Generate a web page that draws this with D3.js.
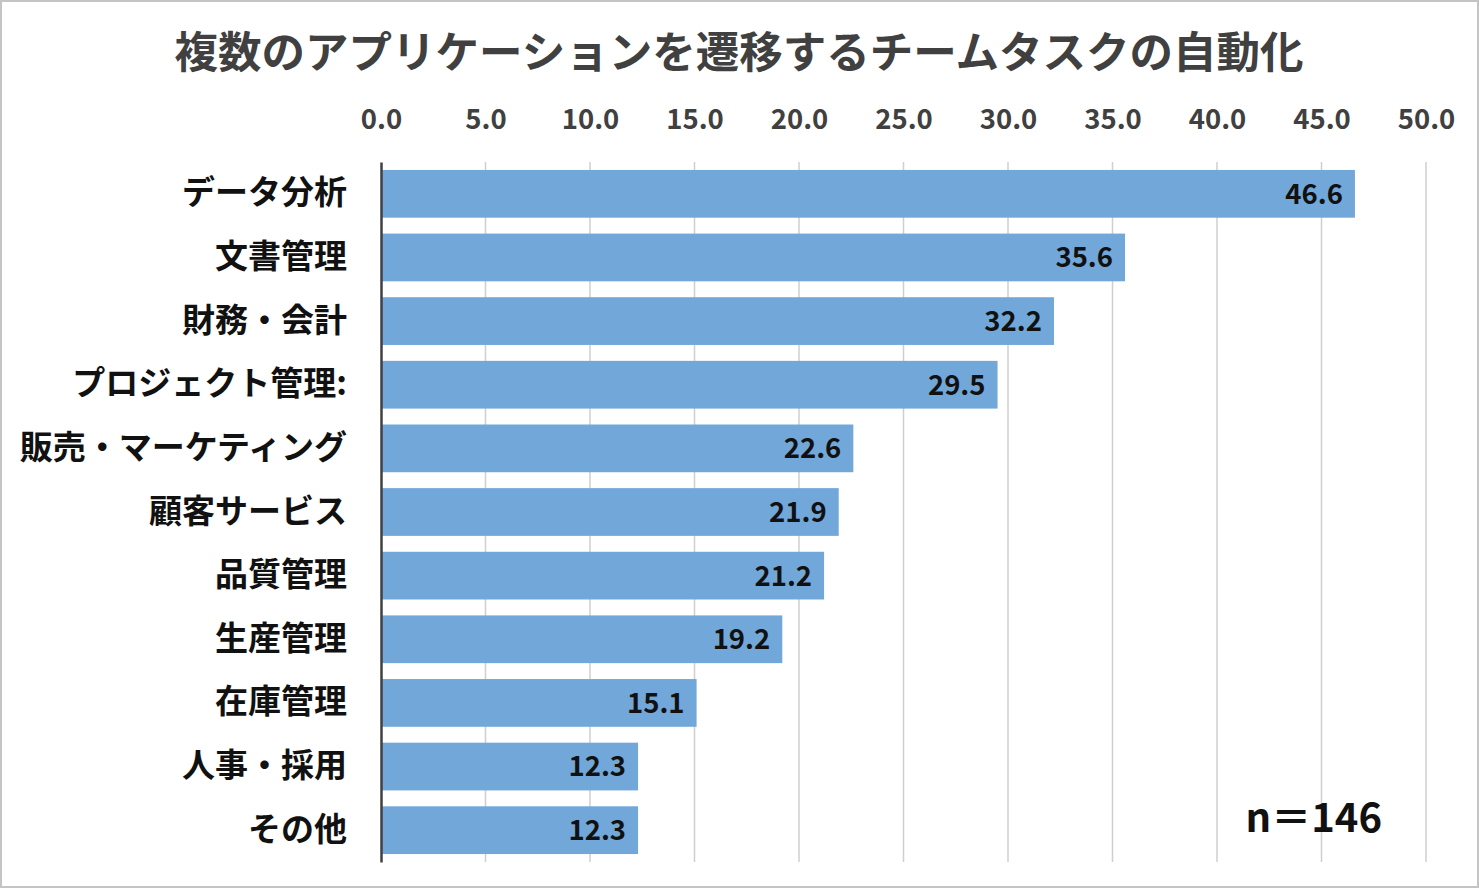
<!DOCTYPE html>
<html>
<head>
<meta charset="utf-8">
<script src="https://cdn.jsdelivr.net/npm/d3@7"></script>
<style>
  html, body { margin: 0; padding: 0; background: #fff; }
  svg { display: block; }
  text { font-family: "Noto Sans CJK JP", "Noto Sans", sans-serif; }
</style>
</head>
<body>
<svg id="chart" width="1479" height="888"></svg>
<script>
const title = '複数のアプリケーションを遷移するチームタスクの自動化';
const categories = ['データ分析', '文書管理', '財務・会計', 'プロジェクト管理:', '販売・マーケティング',
  '顧客サービス', '品質管理', '生産管理', '在庫管理', '人事・採用', 'その他'];
const values = [46.6, 35.6, 32.2, 29.5, 22.6, 21.9, 21.2, 19.2, 15.1, 12.3, 12.3];
const ticks = [0, 5, 10, 15, 20, 25, 30, 35, 40, 45, 50];
const note = 'n＝146';

const svg = d3.select('#chart');
const W = 1479, H = 888;
const m = { top: 162, right: 53, bottom: 26, left: 381 };

// outer frame
svg.append('rect')
  .attr('x', 1).attr('y', 1)
  .attr('width', W - 2).attr('height', H - 2)
  .attr('fill', '#fff')
  .attr('stroke', '#c4c4c4')
  .attr('stroke-width', 2);

const x = d3.scaleLinear().domain([0, 50]).range([m.left, W - m.right]);
const y = d3.scaleBand().domain(categories)
  .range([m.top, H - m.bottom])
  .paddingInner(0.25).paddingOuter(0.125);

svg.append('text')
  .attr('x', 739).attr('y', 68)
  .attr('text-anchor', 'middle')
  .style('font-size', '43.5px').style('font-weight', 700)
  .attr('fill', '#404040')
  .text(title);

// gridlines
svg.append('g')
  .selectAll('line')
  .data(ticks.slice(1))
  .join('line')
    .attr('x1', d => x(d)).attr('x2', d => x(d))
    .attr('y1', m.top).attr('y2', H - m.bottom)
    .attr('stroke', '#cfcfcf')
    .attr('stroke-width', 1.5);

// top axis labels
const xAxis = svg.append('g')
  .attr('transform', `translate(0,${m.top - 30})`)
  .call(d3.axisTop(x).tickValues(ticks).tickFormat(d3.format('.1f')).tickSize(0));
xAxis.select('.domain').remove();
xAxis.selectAll('text')
  .style('font-size', '27.5px').style('font-weight', 700)
  .attr('fill', '#404040')
  .attr('font-family', '"Noto Sans", sans-serif');

// bars
const rows = categories.map((c, i) => ({ c, v: values[i] }));
svg.append('g')
  .selectAll('rect')
  .data(rows)
  .join('rect')
    .attr('x', x(0))
    .attr('y', d => y(d.c))
    .attr('width', d => x(d.v) - x(0))
    .attr('height', y.bandwidth())
    .attr('fill', '#72a7d9');

// value labels
svg.append('g')
  .selectAll('text')
  .data(rows)
  .join('text')
    .attr('x', d => x(d.v) - 12)
    .attr('y', d => y(d.c) + y.bandwidth() / 2)
    .attr('dy', '0.36em')
    .attr('text-anchor', 'end')
    .style('font-size', '27.5px').style('font-weight', 700)
    .attr('font-family', '"Noto Sans", sans-serif')
    .attr('fill', '#111')
    .text(d => d.v.toFixed(1));

// category axis
const yAxis = svg.append('g')
  .attr('transform', `translate(${m.left},0)`)
  .call(d3.axisLeft(y).tickSize(0).tickPadding(34));
yAxis.select('.domain')
  .attr('stroke', '#404040')
  .attr('stroke-width', 2.5);
yAxis.selectAll('text')
  .style('font-size', '33px').style('font-weight', 700)
  .attr('fill', '#111');

svg.append('text')
  .attr('x', 1382).attr('y', 832)
  .attr('text-anchor', 'end')
  .style('font-size', '40px').style('font-weight', 700)
  .attr('fill', '#111')
  .text(note);
</script>
</body>
</html>
